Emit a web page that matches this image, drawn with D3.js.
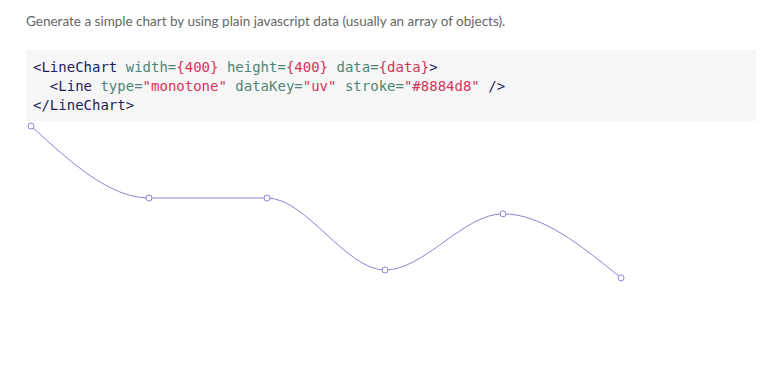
<!DOCTYPE html>
<html>
<head>
<meta charset="utf-8">
<script src="https://cdn.jsdelivr.net/npm/d3@7"></script>
<style>
  html, body { margin: 0; padding: 0; background: #fff; }
  svg { display: block; }
</style>
</head>
<body>
<div id="chart"></div>
<script>
// recharts "getting started" page: intro text, code snippet and the simple monotone line
const names = ["Page A", "Page B", "Page C", "Page D", "Page E", "Page F"];
const uv = [400, 300, 300, 200, 278, 189];

const intro = "Generate a simple chart by using plain javascript data (usually an array of objects).";

// code snippet, split into coloured tokens: t = tag, a = attribute, v = value, p = plain
const codeLines = [
  [["t", "<LineChart "], ["a", "width="], ["v", "{400}"], ["p", " "], ["a", "height="], ["v", "{400}"], ["p", " "], ["a", "data="], ["v", "{data}"], ["t", ">"]],
  [["p", "  "], ["t", "<Line "], ["a", "type="], ["v", "\"monotone\""], ["p", " "], ["a", "dataKey="], ["v", "\"uv\""], ["p", " "], ["a", "stroke="], ["v", "\"#8884d8\""], ["p", " "], ["t", "/>"]],
  [["t", "</LineChart>"]],
];

const tokenColor = { t: "#1d1d5c", a: "#4f8577", v: "#d6335a", p: "#333" };

const W = 781, H = 372;
const svg = d3.select("#chart").append("svg").attr("width", W).attr("height", H);

svg.append("text")
  .attr("x", 26).attr("y", 26)
  .attr("font-family", "Lato, 'Open Sans', sans-serif")
  .attr("font-size", 13.5)
  .attr("fill", "#666")
  .text(intro);

// code block
svg.append("rect")
  .attr("x", 26).attr("y", 50).attr("width", 730).attr("height", 71)
  .attr("fill", "#f6f6f6");

const code = svg.append("g")
  .attr("font-family", "'DejaVu Sans Mono', 'Liberation Mono', monospace")
  .attr("font-size", 14);

codeLines.forEach((line, i) => {
  const t = code.append("text")
    .attr("x", 33).attr("y", 72 + i * 19)
    .attr("xml:space", "preserve")
    .style("white-space", "pre");
  t.selectAll("tspan")
    .data(line)
    .join("tspan")
    .attr("fill", (d) => tokenColor[d[0]])
    .text((d) => d[1]);
});

// the chart itself (its lower part runs below the window, like the screenshot)
const data = names.map((n, i) => ({ name: n, uv: uv[i] }));

const x = d3.scalePoint().domain(names).range([31, 621]);
const y = d3.scaleLinear().domain([0, 400]).range([414, 126]);

const line = d3.line()
  .x((d) => x(d.name))
  .y((d) => y(d.uv))
  .curve(d3.curveMonotoneX);

svg.append("path")
  .datum(data)
  .attr("d", line)
  .attr("fill", "none")
  .attr("stroke", "#8884d8")
  .attr("stroke-width", 1);

svg.append("g")
  .selectAll("circle")
  .data(data)
  .join("circle")
  .attr("cx", (d) => x(d.name))
  .attr("cy", (d) => y(d.uv))
  .attr("r", 3)
  .attr("fill", "#fff")
  .attr("stroke", "#8884d8")
  .attr("stroke-width", 1);
</script>
</body>
</html>
